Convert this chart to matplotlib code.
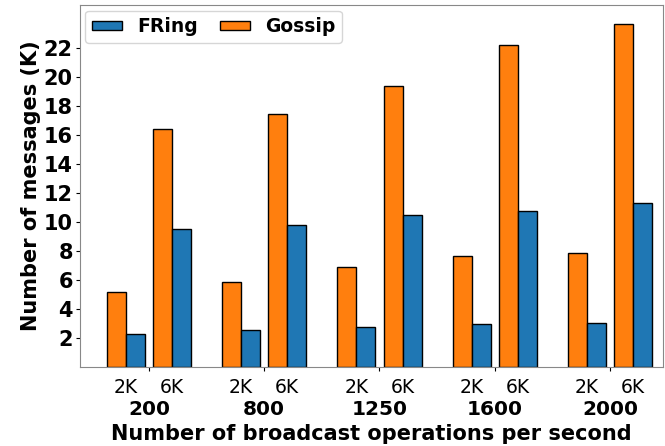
import matplotlib.pyplot as plt
import numpy as np

# DATA
RATES = ["200", "800", "1250", "1600", "2000"]
SIZES = ["2K", "6K"]

GOSSIP_2K = [5.2, 5.85, 6.9, 7.65, 7.85]
FRING_2K = [2.3, 2.55, 2.75, 2.95, 3.05]
GOSSIP_6K = [16.4, 17.5, 19.4, 22.2, 23.7]
FRING_6K = [9.55, 9.8, 10.5, 10.8, 11.3]

ORANGE = "#ff7f0e"
BLUE = "#1f77b4"


def main():
    fig = plt.figure(figsize=(6.65, 4.46), dpi=100)
    ax = fig.add_axes([0.12, 0.177, 0.877, 0.812])

    x = np.arange(len(RATES))
    width = 0.165
    offset = 0.2

    bar_style = dict(width=width, edgecolor="black", linewidth=1.0)

    ax.bar(x - offset - width / 2, GOSSIP_2K, color=ORANGE, **bar_style)
    ax.bar(x - offset + width / 2, FRING_2K, color=BLUE, **bar_style)
    ax.bar(x + offset - width / 2, GOSSIP_6K, color=ORANGE,
           label="Gossip", **bar_style)
    ax.bar(x + offset + width / 2, FRING_6K, color=BLUE,
           label="FRing", **bar_style)

    ax.set_xlim(-0.6, len(RATES) - 1 + 0.46)
    ax.set_ylim(0, 25)
    ax.set_yticks(np.arange(2, 23, 2))
    ax.tick_params(axis="y", labelsize=15, length=3, pad=2)
    for label in ax.get_yticklabels():
        label.set_fontweight("bold")

    # major ticks: rates (bold), minor ticks: message sizes
    ax.set_xticks(x)
    ax.set_xticklabels(RATES, fontsize=14.5, fontweight="bold")
    ax.tick_params(axis="x", which="major", length=3, pad=21)

    minor_pos = np.sort(np.concatenate([x - offset, x + offset]))
    ax.set_xticks(minor_pos, minor=True)
    ax.set_xticklabels(SIZES * len(RATES), minor=True, fontsize=13.5)
    ax.tick_params(axis="x", which="minor", length=0, pad=8)

    ax.set_xlabel("Number of broadcast operations per second",
                  fontsize=15, fontweight="bold", labelpad=3)
    ax.set_ylabel("Number of messages (K)", fontsize=15, fontweight="bold",
                  labelpad=2)

    for spine in ax.spines.values():
        spine.set_color("#888888")

    handles, labels = ax.get_legend_handles_labels()
    ax.legend(handles[::-1], labels[::-1], loc="upper left", ncol=2,
              prop={"weight": "bold", "size": 13.5},
              handlelength=1.6, handleheight=0.4,
              borderaxespad=0.3, columnspacing=1.2, borderpad=0.35)

    fig.savefig("out.png", dpi=100)


if __name__ == "__main__":
    main()
